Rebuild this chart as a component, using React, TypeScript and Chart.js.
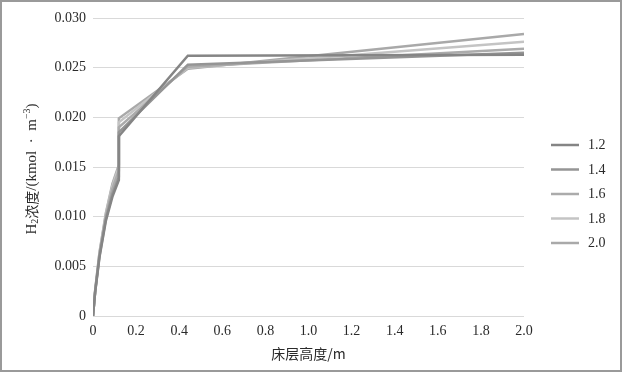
import React, { useEffect, useRef } from "react";
import { Chart, registerables } from "chart.js";

Chart.register(...registerables);

const heights = [0, 0.01, 0.03, 0.06, 0.09, 0.12, 0.12, 0.44, 2.0];
const seriesNames = ["1.2", "1.4", "1.6", "1.8", "2.0"];
const s12 = [0, 0.0024, 0.0059, 0.0096, 0.012, 0.0137, 0.0181, 0.0262, 0.0263];
const s14 = [0, 0.0024, 0.006, 0.0098, 0.0123, 0.014, 0.0185, 0.0253, 0.0265];
const s16 = [0, 0.0025, 0.0062, 0.0101, 0.0128, 0.0146, 0.019, 0.0251, 0.0269];
const s18 = [0, 0.0025, 0.0063, 0.0103, 0.0131, 0.015, 0.0195, 0.025, 0.0276];
const s20 = [0, 0.0026, 0.0064, 0.0104, 0.0133, 0.0152, 0.0199, 0.0249, 0.0284];
const seriesValues = [s12, s14, s16, s18, s20];
const seriesColors = ["#858585", "#959595", "#ababab", "#c4c4c4", "#a9a9a9"];
const xTitle = "床层高度/m";

const SERIF = "'Liberation Serif', 'Times New Roman', serif";
const CJK = "'Noto Sans CJK SC', sans-serif";

const framePlugin = {
  id: "frame",
  beforeDraw(chart: any) {
    const { ctx, width, height } = chart;
    ctx.save();
    ctx.fillStyle = "#ffffff";
    ctx.fillRect(0, 0, width, height);
    ctx.restore();
  },
  afterDraw(chart: any) {
    const { ctx, width, height } = chart;
    ctx.save();
    ctx.strokeStyle = "#9a9a9a";
    ctx.lineWidth = 2;
    ctx.strokeRect(1, 1, width - 2, height - 2);

    // legend
    const lx = 551;
    const ly = 145;
    const step = 24.5;
    chart.data.datasets.forEach((ds: any, i: number) => {
      const y = ly + i * step;
      ctx.strokeStyle = ds.borderColor;
      ctx.lineWidth = 2.5;
      ctx.beginPath();
      ctx.moveTo(lx, y);
      ctx.lineTo(lx + 28, y);
      ctx.stroke();
      ctx.fillStyle = "#2a2a2a";
      ctx.font = `14px ${SERIF}`;
      ctx.textBaseline = "middle";
      ctx.textAlign = "left";
      ctx.fillText(ds.label, lx + 37, y + 0.5);
    });

    // y title with subscript / superscript
    const parts: [string, string, number][] = [
      ["H", `15px ${SERIF}`, 0],
      ["2", `10px ${SERIF}`, 3],
      ["浓度", `14px ${CJK}`, 0],
      ["/(kmol  ·  m", `15px ${SERIF}`, 0],
      ["−3", `10px ${SERIF}`, -5],
      [")", `15px ${SERIF}`, 0],
    ];
    let total = 0;
    parts.forEach(([t, f]) => {
      ctx.font = f;
      total += ctx.measureText(t).width;
    });
    ctx.translate(32, 169);
    ctx.rotate(-Math.PI / 2);
    let x = -total / 2;
    ctx.fillStyle = "#2a2a2a";
    ctx.textBaseline = "middle";
    ctx.textAlign = "left";
    parts.forEach(([t, f, dy]) => {
      ctx.font = f;
      ctx.fillText(t, x, dy);
      x += ctx.measureText(t).width;
    });
    ctx.restore();
  },
};

export default function App() {
  const ref = useRef<HTMLCanvasElement>(null);
  useEffect(() => {
    document.body.style.margin = "0";
    const canvas = ref.current;
    if (!canvas) return;
    const datasets = seriesNames.map((name, i) => ({
      label: name,
      data: heights.map((h, j) => ({ x: h, y: seriesValues[i][j] })),
      borderColor: seriesColors[i],
      backgroundColor: seriesColors[i],
      borderWidth: 2.5,
      pointRadius: 0,
      pointHoverRadius: 0,
      tension: 0,
      fill: false,
      showLine: true,
    }));
    const chart = new Chart(canvas, {
      type: "scatter",
      data: { datasets },
      options: {
        responsive: false,
        animation: false,
        devicePixelRatio: 1,
        layout: { padding: { left: 20, right: 98, top: 18, bottom: 10 } },
        plugins: {
          legend: { display: false },
          tooltip: { enabled: false },
        },
        scales: {
          x: {
            type: "linear",
            min: 0,
            max: 2,
            afterFit: (s: any) => {
              s.height = 46;
            },
            ticks: {
              stepSize: 0.2,
              padding: 7,
              color: "#2a2a2a",
              font: { family: SERIF, size: 14 },
              callback: (v: any) => (Number(v) === 0 ? "0" : Number(v).toFixed(1)),
              maxRotation: 0,
            },
            grid: { display: false, drawTicks: false },
            border: { display: false },
            title: {
              display: true,
              text: xTitle,
              color: "#2a2a2a",
              font: { family: CJK, size: 14 },
              padding: { top: 0, bottom: 0 },
            },
          },
          y: {
            type: "linear",
            min: 0,
            max: 0.03,
            afterFit: (s: any) => {
              s.width = 73;
            },
            ticks: {
              stepSize: 0.005,
              padding: 7,
              color: "#2a2a2a",
              font: { family: SERIF, size: 14 },
              callback: (v: any) => (Number(v) === 0 ? "0" : Number(v).toFixed(3)),
            },
            grid: { color: "#d9d9d9", lineWidth: 1, drawTicks: false },
            border: { display: false },
          },
        },
      },
      plugins: [framePlugin],
    });
    return () => chart.destroy();
  }, []);
  return <canvas ref={ref} width={622} height={372} style={{ display: "block" }} />;
}
